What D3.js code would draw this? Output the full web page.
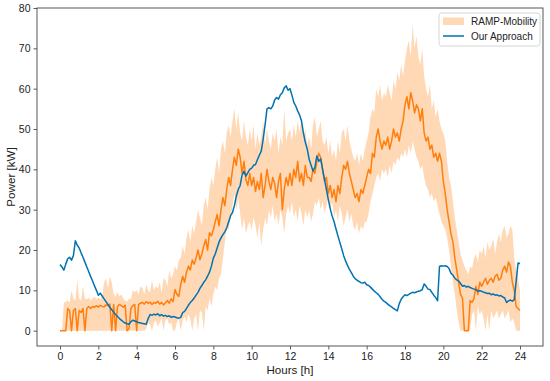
<!DOCTYPE html>
<html>
<head>
<meta charset="utf-8">
<script src="https://cdn.jsdelivr.net/npm/d3@7"></script>
<style>
  body { margin: 0; background: #fff; }
  text { font-family: "Liberation Sans", Arial, sans-serif; }
</style>
</head>
<body>
<div id="chart"></div>
<script>
// data, one value every 0.1 h (0.0 .. 24.0)
var hours = d3.range(0, 241).map(function(i) { return i / 10; });

var rampMean = [
  0,0,0,0,5.5,5,0,5,5.5,0,
  5,4.5,5.5,0,5.5,6,5.5,6,5.8,6.2,
  5.8,6.3,6,5.9,6.4,6.2,6.6,0,6.5,0,
  6,6.5,6.2,5.8,6.3,0,0.5,5.5,6.2,6.5,
  0,6.5,6.8,7,6.6,7.2,6.8,7.1,6.5,7,
  6.8,7.3,6.6,7,6.4,6.9,7.5,6.8,7.9,7.2,
  10.2,9,8.5,11.5,13.5,12,14.5,16,15,17.5,
  16.5,18,20,17.6,19,21,22.6,20,24.3,23.5,
  25,27,28.8,26,30,33,31,35,38,36,
  40,43,41,45,43,39,42,37.5,36,39,
  36,38,34.5,37,35,39,33,36,40,37,
  35,38,36.5,33,37,39,30,35,38,36,
  39,36,40,38,42,37,39,36,41,38,
  38,37,40,39,42,44,43,40,37,38,
  34,36,33,35,32,36,34,38,41,40,
  42,39,37,35,33,34,32,35,34,36,
  38,40,39,44,43,48,50,47,45,47,
  46,48,45,47,50,48,49,47,50,52,
  56,58,55,59,57,54,56,55,52,55,
  49,47,48,45,46,43,44,42,44,42,
  37,34,30,27,24,22,18,15,12,9,
  8,0,0,0,7.5,7,8,11,9,12,
  11,12,13,11.5,12.5,13,12,13.5,14,12.5,
  13,15,16,14.5,17,16,12,10,6,5.5,
  5
];

var rampUpper = [
  0,0,7,7.2,7.5,7,10,8,7.5,12.5,
  8,7.5,11,8,7.8,8.2,7.5,8,8.5,7.8,
  8.2,7.7,8.5,12,13,10.5,13.5,12,9,8.5,
  9.5,8.5,9,8,7.5,7.2,8,7.8,10,9.5,
  10,9,11,10.5,9,11.5,10,9.5,12.5,10,
  11,10.5,12,9.5,13,12.5,11,15,13,14,
  16,15,17.5,18,21,19,23,25,22,26,
  24,27,30,28,26,31,33,30,35,38,
  36,40,43,39,45,47,44,49,51,48,
  52,55,50,54,49,47,52,48,46,50,
  47,51,45,49,46,48,52,46,50,47,
  45,49,47,50,44,48,46,55,47,49,
  50,47,51,48,52,49,53,48,50,46,
  48,45,51,53,48,50,52,47,46,48,
  44,47,43,45,42,47,44,49,50,47,
  51,47,45,43,42,44,41,44,42,45,
  47,49,53,55,54,60,58,61,57,59,
  58,61,59,57,62,60,64,62,66,63,
  67,70,72,68,76,70,73,68,66,70,
  63,60,58,61,55,57,53,55,52,50,
  49,47,42,38,36,32,28,25,22,19,
  17.5,16,15,14,16,15.5,18,19,17,20,
  19,21,18,22,20,21,23,19,22,24,
  22,25,26,23,24,26,25,18,15,13,
  10
];

var rampLower = [
  0,0,0,0,0,0,0,0,0,0,
  0,0,0,0,0,0,0,0,0,0,
  0,0,0,0,0,0,0,0,0,0,
  0,0,0,0,0,0,0,0,0,0,
  0,0,0,0,0,0.5,2,1.5,0,2,
  2.5,1,2,3,0,2.5,3,1.5,2,0,
  0,2,3,0,2.5,3.5,2,4,3,0,
  3,4,0,5,4.5,0,6,5,8,6,
  9,11,10,13,14,18,22,26,25,28,
  31,34,30,33,29,25,28,24,26,27,
  25,28,26,23,27,21,25,28,26,30,
  28,31,27,29,26,30,28,24,29,31,
  29,32,28,30,27,31,29,26,30,28,
  30,27,29,32,31,33,30,32,29,31,
  33,30,32,28,30,27,31,29,26,28,
  30,27,29,26,25,27,24,26,25,27,
  27,29,32,34,36,38,39,37,40,39,
  40,38,41,39,42,41,43,42,44,43,
  45,43,46,44,47,45,43,42,40,41,
  38,36,35,33,34,32,33,31,29,27,
  26,25,23,20,16,12,9,5,2,0,
  0,0,0,0,0,4,5,0,6,4,
  5,3,0,4,0,5,3,4,5,3,
  4,5,3,4,5,2,3,2,0,0,
  0
];

var ourApproach = [
  16.4,15.8,15,16.5,17.8,18.2,17.5,18.6,22.3,21.2,
  20.5,19.3,18.2,17,15.8,14.6,13.4,12.3,11.1,10,
  8.8,9.3,8.6,7.9,7.2,6.5,5.8,5.2,4.6,4,
  3.5,3,2.6,2.2,1.9,1.7,1.6,2.2,2.6,2.4,
  2.2,2,1.9,1.8,1.7,1.6,3,4,3.8,4.1,
  3.9,4.2,3.7,4,3.6,3.8,3.5,3.7,3.3,3.5,
  3.4,3.2,3.1,3.3,4.5,4.8,5.5,6.3,7,7.5,
  8.1,8.8,9.5,10.5,11.2,12,12.6,13.5,14.5,16,
  18,19,20.5,22,23,23.8,24.5,25.5,27,28.5,
  29.3,31,33.4,35,36,38.6,39.5,38.3,39.2,40,
  40.3,41,41.2,42.4,43.5,44.5,47.5,51,55,55.3,
  55,55.7,57.2,57.8,57.4,58.5,59,60.2,60.7,59.6,
  60,58.4,56.6,55.7,54.5,53.5,52,49,46.7,45,
  42.5,41,39.6,40.5,43.3,42,42.6,40,37.5,35,
  32.5,30.2,28.4,27,25.2,23.5,21.9,20.3,18.6,17.3,
  16.2,15.2,14.4,13.5,12.9,12.5,12.2,11.9,11.8,12,
  11.4,11.2,10.8,10.3,9.8,9.4,9,8.4,7.8,7.3,
  7,6.6,6.2,5.9,5.5,5.2,4.9,6.7,7.8,8.4,
  8.9,8.7,9,9.3,9.5,9.4,9.6,9.8,9.9,10.2,
  11.6,11,10.3,10.2,9.5,8.8,8.2,7.4,15.9,16.1,
  16,16.1,15.9,15.4,14.2,13.8,13,12.6,12.3,11.7,
  11,11.2,10.8,11,10.7,10.5,10.3,10.2,9.8,9.9,
  9.8,9.5,9.4,9.2,9.3,8.9,9.1,8.8,8.9,8.6,
  8.7,8.4,8.1,7,7.4,7.6,7.3,7.7,12.3,16.8,
  16.6
];

var xTicks = [0, 2, 4, 6, 8, 10, 12, 14, 16, 18, 20, 22, 24];
var yTicks = [0, 10, 20, 30, 40, 50, 60, 70, 80];
var seriesNames = ["RAMP-Mobility", "Our Approach"];

var svgWidth = 550;
var svgHeight = 381;
var margin = { top: 8, right: 7, bottom: 35, left: 37 };
var chartWidth = svgWidth - margin.left - margin.right;
var chartHeight = svgHeight - margin.top - margin.bottom;

var svg = d3.select("#chart")
  .append("svg")
  .attr("width", svgWidth)
  .attr("height", svgHeight);

var chartGroup = svg.append("g")
  .attr("transform", `translate(${margin.left}, ${margin.top})`);

var xScale = d3.scaleLinear()
  .domain([-1.2, 25.2])
  .range([0, chartWidth]);

var yScale = d3.scaleLinear()
  .domain([-3.8, 80])
  .range([chartHeight, 0]);

var rows = hours.map(function(h, i) {
  return { h: h, mean: rampMean[i], lo: rampLower[i], hi: rampUpper[i], ours: ourApproach[i] };
});

chartGroup.append("clipPath")
  .attr("id", "clip")
  .append("rect")
  .attr("width", chartWidth)
  .attr("height", chartHeight);

var plot = chartGroup.append("g").attr("clip-path", "url(#clip)");

// spread of RAMP-Mobility runs
plot.append("path")
  .datum(rows)
  .attr("fill", "#ff7f0e")
  .attr("fill-opacity", 0.3)
  .attr("d", d3.area()
    .x(function(d) { return xScale(d.h); })
    .y0(function(d) { return yScale(d.lo); })
    .y1(function(d) { return yScale(d.hi); }));

plot.append("path")
  .datum(rows)
  .attr("fill", "none")
  .attr("stroke", "#ff7f0e")
  .attr("stroke-width", 1.5)
  .attr("stroke-linejoin", "round")
  .attr("d", d3.line()
    .x(function(d) { return xScale(d.h); })
    .y(function(d) { return yScale(d.mean); }));

plot.append("path")
  .datum(rows)
  .attr("fill", "none")
  .attr("stroke", "#0173b2")
  .attr("stroke-width", 1.5)
  .attr("stroke-linejoin", "round")
  .attr("d", d3.line()
    .x(function(d) { return xScale(d.h); })
    .y(function(d) { return yScale(d.ours); }));

// axes
var xAxis = d3.axisBottom(xScale).tickValues(xTicks).tickSizeOuter(0).tickSize(3.5).tickPadding(3.5);
var yAxis = d3.axisLeft(yScale).tickValues(yTicks).tickSizeOuter(0).tickSize(3.5).tickPadding(3);

var gx = chartGroup.append("g")
  .attr("transform", `translate(0, ${chartHeight})`)
  .call(xAxis);
var gy = chartGroup.append("g")
  .call(yAxis);

[gx, gy].forEach(function(g) {
  g.select(".domain").remove();
  g.selectAll("line").attr("stroke", "#333").attr("stroke-width", 0.8);
  g.selectAll("text")
    .attr("fill", "#222")
    .attr("font-size", "10.5px")
    .style("font-family", "'Liberation Sans', Arial, sans-serif");
});

chartGroup.append("rect")
  .attr("width", chartWidth)
  .attr("height", chartHeight)
  .attr("fill", "none")
  .attr("stroke", "#444")
  .attr("stroke-width", 0.9);

chartGroup.append("text")
  .text("Hours [h]")
  .attr("x", chartWidth / 2)
  .attr("y", chartHeight + 28)
  .attr("text-anchor", "middle")
  .attr("font-size", "11.6px")
  .attr("fill", "#222");

chartGroup.append("text")
  .text("Power [kW]")
  .attr("transform", `translate(${-22}, ${chartHeight / 2}) rotate(-90)`)
  .attr("text-anchor", "middle")
  .attr("font-size", "11.6px")
  .attr("fill", "#222");

// legend
var legend = chartGroup.append("g")
  .attr("transform", `translate(${chartWidth - 104}, 5)`);

legend.append("rect")
  .attr("width", 101)
  .attr("height", 33)
  .attr("rx", 2.5)
  .attr("fill", "#fff")
  .attr("fill-opacity", 0.8)
  .attr("stroke", "#ccc")
  .attr("stroke-width", 0.8);

legend.append("rect")
  .attr("x", 4)
  .attr("y", 4.5)
  .attr("width", 21)
  .attr("height", 7.5)
  .attr("fill", "#ff7f0e")
  .attr("fill-opacity", 0.3);

legend.append("line")
  .attr("x1", 4)
  .attr("x2", 25)
  .attr("y1", 23)
  .attr("y2", 23)
  .attr("stroke", "#0173b2")
  .attr("stroke-width", 1.5);

legend.selectAll("text.lbl")
  .data(seriesNames)
  .enter()
  .append("text")
  .attr("class", "lbl")
  .text(function(d) { return d; })
  .attr("x", 32)
  .attr("y", function(d, i) { return 12 + i * 14.5; })
  .attr("font-size", "10px")
  .attr("fill", "#222");
</script>
</body>
</html>
